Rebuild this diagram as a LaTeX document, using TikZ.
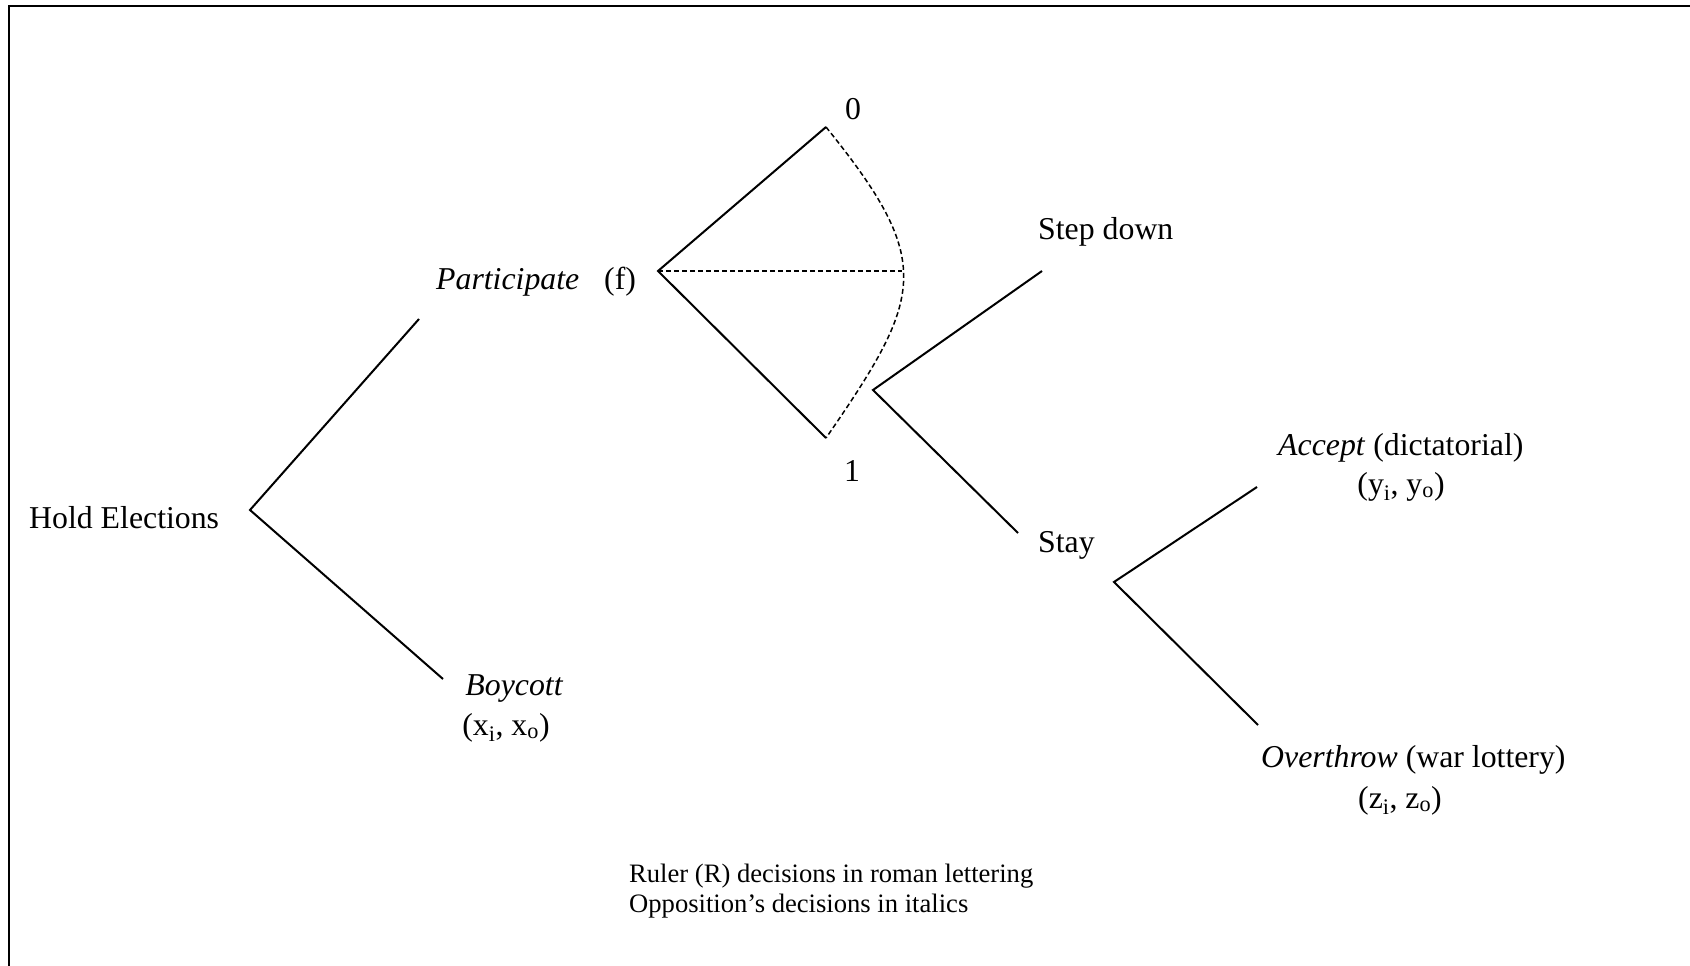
\documentclass[tikz,border=0pt]{standalone}
\usepackage{fontspec}
\setmainfont{Liberation Serif}
\begin{document}
\begin{tikzpicture}[x=1pt,y=-1pt,
  branch/.style={line width=2pt},
  info/.style={line width=1.5pt, dash pattern=on 5pt off 3pt},
  lbl/.style={inner sep=0pt, anchor=base west, font=\fontsize{31.8}{38}\selectfont},
  lblc/.style={lbl, anchor=base},
  note/.style={inner sep=0pt, anchor=base west, font=\fontsize{26.6}{31}\selectfont},
  frame/.style={line width=2pt}]
\useasboundingbox (0,0) rectangle (1690,966);
\draw[frame] (9,966) -- (9,6) -- (1690,6);
% tree vertices and branch ends
\coordinate (r0) at (250,510);
\coordinate (pe) at (419,319);
\coordinate (be) at (443,679);
\coordinate (f) at (658,271);
\coordinate (e0) at (826,127);
\coordinate (e1) at (826,438);
\coordinate (m) at (902,271);
\coordinate (s) at (873,390);
\coordinate (sd) at (1042,271);
\coordinate (st) at (1018,533);
\coordinate (t) at (1114,582);
\coordinate (ac) at (1257,487);
\coordinate (ov) at (1258,725);
\draw[branch] (pe) -- (r0) -- (be);
\draw[branch] (e0) -- (f) -- (e1);
\draw[info] (f) -- (m);
\draw[info] (e0) .. controls (935,262) and (924,296) .. (e1);
\draw[branch] (sd) -- (s) -- (st);
\draw[branch] (ac) -- (t) -- (ov);
% labels
\node[lbl] (hold) at (29,528) {Hold Elections};
\node[lbl] (part) at (436,289) {\itshape Participate};
\node[lbl] (fl) at (604,289) {(f)};
\node[lblc] (zero) at (853,119) {0};
\node[lblc] (one) at (852,481) {1};
\node[lbl] (step) at (1038,239) {Step down};
\node[lbl] (stay) at (1038,552) {Stay};
\node[lbl] (acc) at (1278,455) {\textit{Accept} (dictatorial)};
\node[lblc] (accp) at (1401,494) {(y\textsubscript{i}, y\textsubscript{o})};
\node[lbl] (ovr) at (1261,767) {\textit{Overthrow} (war lottery)};
\node[lblc] (ovp) at (1400,808) {(z\textsubscript{i}, z\textsubscript{o})};
\node[lblc] (boy) at (514,695) {\itshape Boycott};
\node[lblc] (boyp) at (506,735) {(x\textsubscript{i}, x\textsubscript{o})};
\node[note] (n1) at (629,882) {Ruler (R) decisions in roman lettering};
\node[note] (n2) at (629,912) {Opposition’s decisions in italics};
\end{tikzpicture}
\end{document}
